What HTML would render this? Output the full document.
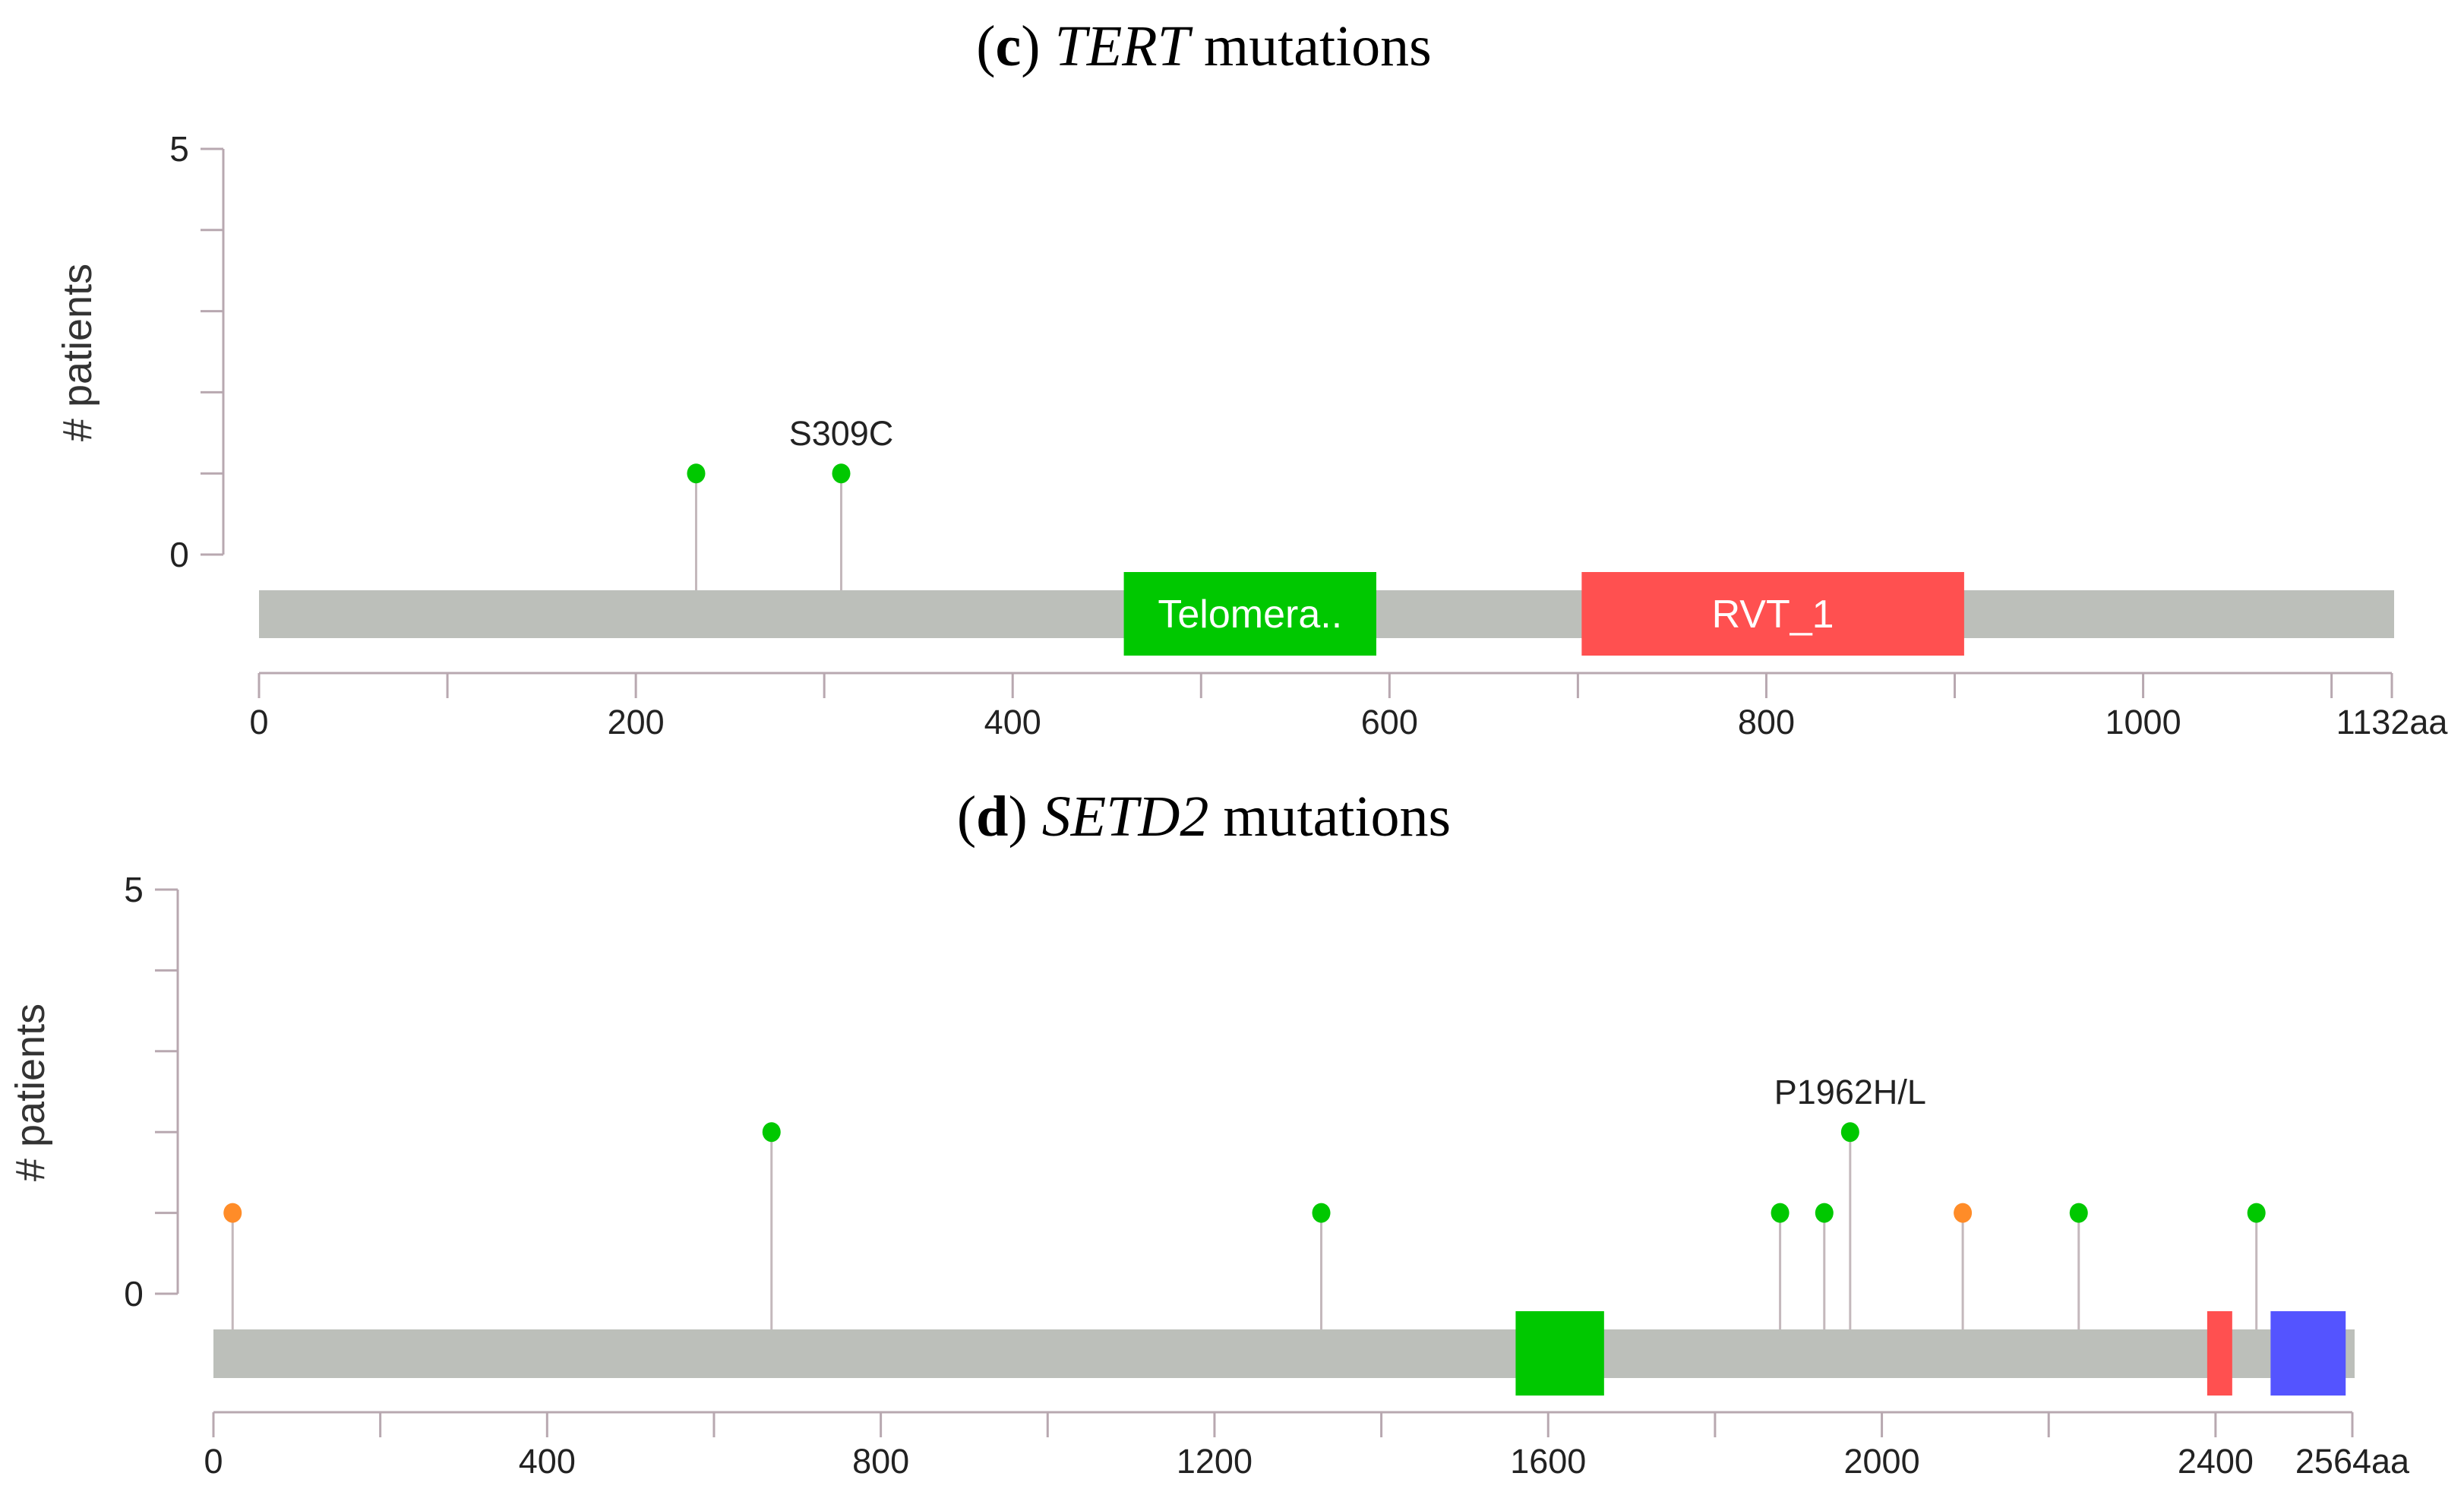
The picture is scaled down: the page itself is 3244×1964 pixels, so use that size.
<!DOCTYPE html>
<html><head><meta charset="utf-8"><style>
html,body{margin:0;padding:0;background:#fff;}
svg{display:block;}
</style></head><body>
<svg id="chart" width="3244" height="1964" viewBox="0 0 3244 1964" xmlns="http://www.w3.org/2000/svg">
<g font-family="Liberation Serif, serif" font-size="76" fill="#000" text-anchor="middle">
<text x="1585" y="86">(<tspan font-weight="bold">c</tspan>) <tspan font-style="italic">TERT</tspan> mutations</text>
<text x="1585" y="1100">(<tspan font-weight="bold">d</tspan>) <tspan font-style="italic">SETD2</tspan> mutations</text>
</g>
<g id="panels"></g>
</svg>
<script>
// TERT panel data
const tertPositions = [232, 309];
const tertCounts = [1, 1];
const tertColors = ["#00c800", "#00c800"];
const tertLabels = ["", "S309C"];
const tertDomainStart = [459, 702];
const tertDomainEnd = [593, 905];
const tertDomainNames = ["Telomera..", "RVT_1"];
const tertDomainColors = ["#00c800", "#ff5050"];
const tertLength = 1132;
const tertTickLabels = [0, 200, 400, 600, 800, 1000];
// SETD2 panel data
const setdPositions = [23, 669, 1328, 1878, 1931, 1962, 2097, 2236, 2449];
const setdCounts = [1, 2, 1, 1, 1, 2, 1, 1, 1];
const setdColors = ["#ff8c28","#00c800","#00c800","#00c800","#00c800","#00c800","#ff8c28","#00c800","#00c800"];
const setdLabels = ["","","","","","P1962H/L","","",""];
const setdDomainStart = [1561, 2390, 2466];
const setdDomainEnd = [1667, 2420, 2556];
const setdDomainNames = ["", "", ""];
const setdDomainColors = ["#00c800", "#ff5050", "#5454ff"];
const setdLength = 2564;
const setdTickLabels = [0, 400, 800, 1200, 1600, 2000, 2400];
const yTickValues = [0, 1, 2, 3, 4, 5];
const yTickLabels = ["0", "", "", "", "", "5"];

const NS = "http://www.w3.org/2000/svg";
function mk(parent, tag, attrs, text) {
  const e = document.createElementNS(NS, tag);
  for (const k in attrs) e.setAttribute(k, attrs[k]);
  if (text !== undefined) e.textContent = text;
  parent.appendChild(e);
  return e;
}
function panel(cfg, d) {
  const root = document.getElementById("panels");
  const g = mk(root, "g", {});
  
  
  const sx = v => cfg.x0 + v * (cfg.x1 - cfg.x0) / d.len;
  const sy = v => cfg.y0 - v * (cfg.y0 - cfg.y5) / 5;
  const ya = mk(g, "line", {x1: cfg.ax, x2: cfg.ax, y1: sy(5), y2: sy(0), stroke: "#b8a8b0", "stroke-width": 3});
  
  
  yTickValues.forEach((v, i) => {
    const t = mk(g, "line", {x1: cfg.ax - 30, x2: cfg.ax, y1: sy(v), y2: sy(v), stroke: "#b8a8b0", "stroke-width": 3});
    
    
    if (yTickLabels[i]) {
      const tl = mk(g, "text", {x: cfg.ax - 58, y: sy(v) + 16, "font-family": "Liberation Sans, sans-serif", "font-size": 46, "text-anchor": "middle", fill: "#222"}, yTickLabels[i]);
      
      
    }
  });
  const yl = mk(g, "text", {x: 0, y: 0, transform: `translate(${cfg.ylx},${cfg.yly}) rotate(-90)`, "font-family": "Liberation Sans, sans-serif", "font-size": 54, "text-anchor": "middle", fill: "#333"}, "# patients");
  
  
  const bar = mk(g, "rect", {x: cfg.x0, y: cfg.barTop, width: cfg.barEnd - cfg.x0, height: cfg.barBot - cfg.barTop, fill: "#bcbfba"});
  
  
  d.pos.forEach((p, i) => {
    const x = sx(p), y = sy(d.cnt[i]);
    const st = mk(g, "line", {x1: x, x2: x, y1: y, y2: cfg.barTop, stroke: "#c4b8bc", "stroke-width": 3});
    
    
    const c = mk(g, "ellipse", {cx: x, cy: y, rx: 12, ry: 13, fill: d.col[i]});
    
    
    if (d.lab[i]) {
      const t = mk(g, "text", {x: x, y: y - 37, "font-family": "Liberation Sans, sans-serif", "font-size": 45, "text-anchor": "middle", fill: "#222"}, d.lab[i]);
      
      
    }
  });
  d.ds.forEach((s, i) => {
    const x = sx(s), w = sx(d.de[i]) - x;
    const r = mk(g, "rect", {x: x, y: cfg.domTop, width: w, height: cfg.domBot - cfg.domTop, fill: d.dc[i]});
    
    
    if (d.dn[i]) {
      const t = mk(g, "text", {x: x + w / 2, y: (cfg.domTop + cfg.domBot) / 2 + 18, "font-family": "Liberation Sans, sans-serif", "font-size": 52, "text-anchor": "middle", fill: "#fff"}, d.dn[i]);
      
      
    }
  });
  const xa = mk(g, "line", {x1: cfg.x0, x2: sx(d.len), y1: cfg.xay, y2: cfg.xay, stroke: "#b8a8b0", "stroke-width": 3});
  
  
  for (let v = 0; v < d.len; v += cfg.minor) {
    const t = mk(g, "line", {x1: sx(v), x2: sx(v), y1: cfg.xay, y2: cfg.xay + 33, stroke: "#b8a8b0", "stroke-width": 3});
    
    
  }
  const te = mk(g, "line", {x1: sx(d.len), x2: sx(d.len), y1: cfg.xay, y2: cfg.xay + 33, stroke: "#b8a8b0", "stroke-width": 3});
  
  
  d.ticks.forEach(v => {
    const t = mk(g, "text", {x: sx(v), y: cfg.xay + 80, "font-family": "Liberation Sans, sans-serif", "font-size": 45, "text-anchor": "middle", fill: "#222"}, String(v));
    
    
  });
  const tl = mk(g, "text", {x: sx(d.len), y: cfg.xay + 80, "font-family": "Liberation Sans, sans-serif", "font-size": 45, "text-anchor": "middle", fill: "#222"}, d.len + "aa");
  
  
}
panel({name: "tert-panel", x0: 341, x1: 3149, y0: 730, y5: 196, ax: 294, ylx: 120, yly: 464,
  barTop: 777, barBot: 840, barEnd: 3152, domTop: 753, domBot: 863, xay: 886, minor: 100},
  {pos: tertPositions, cnt: tertCounts, col: tertColors, lab: tertLabels, ds: tertDomainStart, de: tertDomainEnd,
   dn: tertDomainNames, dc: tertDomainColors, len: tertLength, ticks: tertTickLabels});
panel({name: "setd2-panel", x0: 281, x1: 3097, y0: 1703, y5: 1171, ax: 234, ylx: 58, yly: 1438,
  barTop: 1750, barBot: 1814, barEnd: 3100, domTop: 1726, domBot: 1837, xay: 1859, minor: 200},
  {pos: setdPositions, cnt: setdCounts, col: setdColors, lab: setdLabels, ds: setdDomainStart, de: setdDomainEnd,
   dn: setdDomainNames, dc: setdDomainColors, len: setdLength, ticks: setdTickLabels});
</script>
</body></html>
